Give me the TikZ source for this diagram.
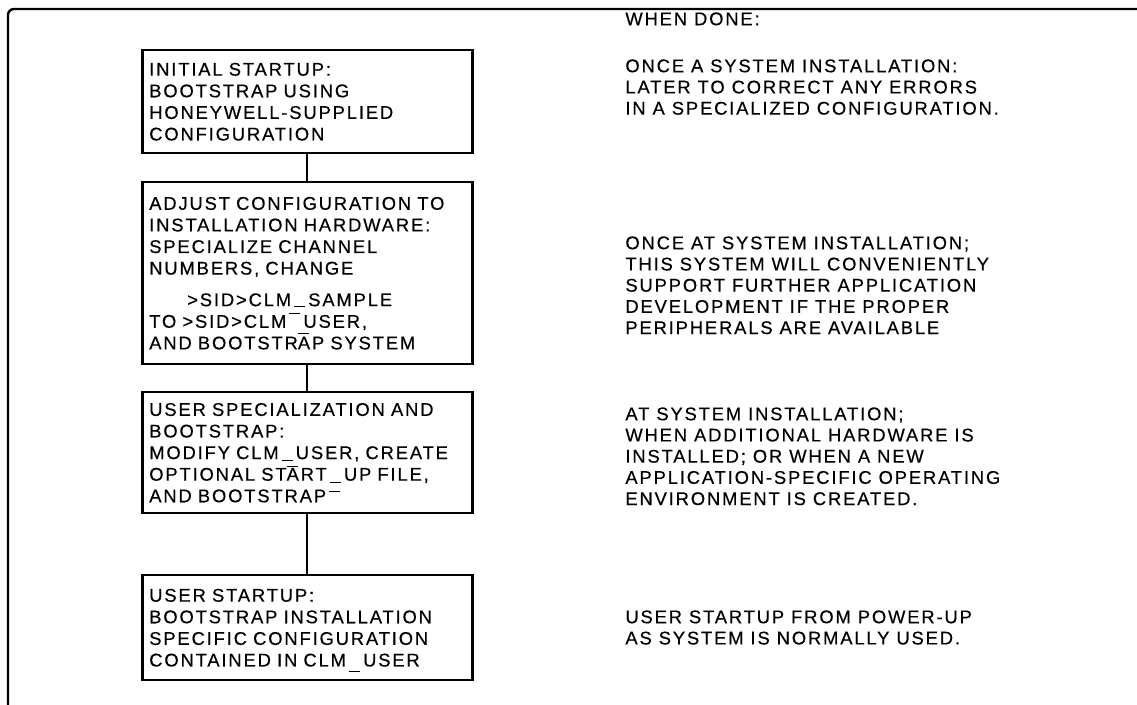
\documentclass[tikz,border=0pt]{standalone}
\usepackage{fontspec}
\setmainfont{Liberation Sans}[LetterSpace=10, FakeBold=0.4]
\usepackage{tikz}
\usetikzlibrary{positioning}

% underscore bars as the old typesetter left them
\newcommand\ubar[1]{\,\smash{\rule[#1]{5.5pt}{0.6pt}}\,}
\newcommand\barover[2]{\rlap{\smash{\rule[#1]{5.5pt}{0.6pt}}}#2}

\begin{document}
\begin{tikzpicture}[x=0.5pt,y=-0.5pt,
    stepbox/.style={draw, line width=1.25pt, anchor=north west, align=left,
      text width=158pt, inner xsep=3.5pt, inner ysep=0pt,
      font=\fontsize{9.2}{10.8}\selectfont},
    note/.style={anchor=north west, align=left, inner sep=0pt,
      font=\fontsize{9.2}{10.6}\selectfont},
    link/.style={line width=1.1pt}]
  \useasboundingbox (0,0) rectangle (1137,705);

  % Marco
  \draw[line width=1.2pt, rounded corners=3pt] (8,705) -- (8,9) -- (1137,9);

  % Pasos
  \node[stepbox, minimum height=51.5pt] (initial) at (141,49)
    {INITIAL STARTUP:\\BOOTSTRAP USING\\HONEYWELL-SUPPLIED\\CONFIGURATION};
  \node[stepbox, minimum height=91pt] (adjust) at (141,181)
    {ADJUST CONFIGURATION TO\\INSTALLATION HARDWARE:\\SPECIALIZE CHANNEL\\NUMBERS, CHANGE\\[5pt]
     \hspace*{19pt}>SID>CLM\ubar{-0.4pt}SAMPLE\\
     TO >SID>CLM\ubar{7pt}USER,\\
     AND BOOTSTR\barover{7.6pt}{A}P SYSTEM};
  \node[stepbox, minimum height=60.5pt] (special) at (141,391)
    {USER SPECIALIZATION AND\\BOOTSTRAP:\\MODIFY CLM\ubar{-1.2pt}USER, CREATE\\
     OPTIONAL ST\barover{6.6pt}{A}RT\ubar{-1.2pt}UP FILE,\\AND BOOTSTRAP\ubar{5pt}};
  \node[stepbox, minimum height=52.5pt] (user) at (141,574)
    {USER STARTUP:\\BOOTSTRAP INSTALLATION\\SPECIFIC CONFIGURATION\\CONTAINED IN CLM\ubar{-3pt}USER};

  % Uniones
  \draw[link] (initial) -- (adjust);
  \draw[link] (adjust) -- (special);
  \draw[link] (special) -- (user);

  % Notas
  \node[note] (done) at (625,12) {WHEN DONE:};
  \node[note] (once) at (625,59)
    {ONCE A SYSTEM INSTALLATION:\\LATER TO CORRECT ANY ERRORS\\IN A SPECIALIZED CONFIGURATION.};
  \node[note] (install) at (625,236)
    {ONCE AT SYSTEM INSTALLATION;\\THIS SYSTEM WILL CONVENIENTLY\\SUPPORT FURTHER APPLICATION\\
     DEVELOPMENT IF THE PROPER\\PERIPHERALS ARE AVAILABLE};
  \node[note] (when) at (625,407)
    {AT SYSTEM INSTALLATION;\\WHEN ADDITIONAL HARDWARE IS\\INSTALLED; OR WHEN A NEW\\
     APPLICATION-SPECIFIC OPERATING\\ENVIRONMENT IS CREATED.};
  \node[note] (power) at (625,610)
    {USER STARTUP FROM POWER-UP\\AS SYSTEM IS NORMALLY USED.};
\end{tikzpicture}
\end{document}
